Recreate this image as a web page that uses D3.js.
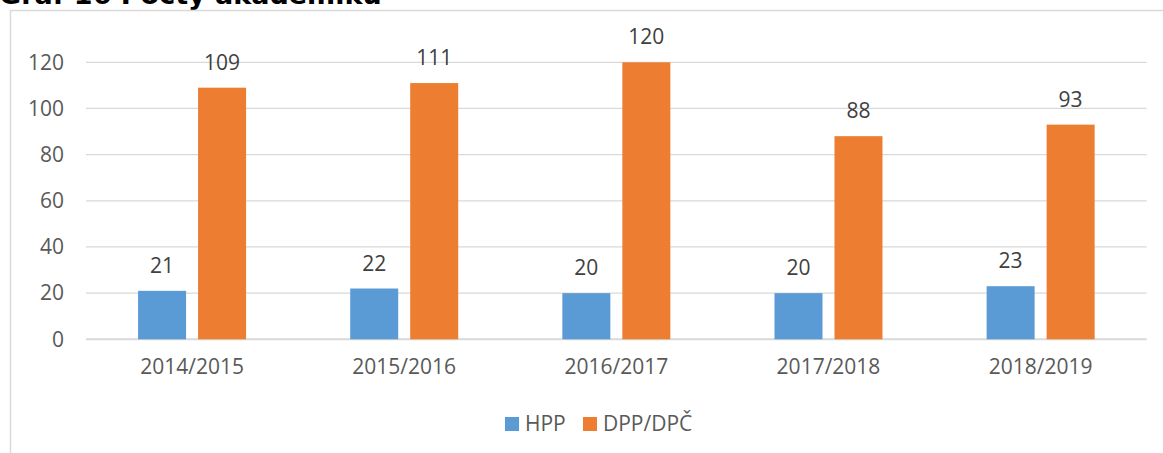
<!DOCTYPE html>
<html><head><meta charset="utf-8">
<script src="https://cdn.jsdelivr.net/npm/d3@7"></script>
<style>body{margin:0;background:#fff}svg{display:block}</style>
</head><body>
<script>
const categories = ["2014/2015","2015/2016","2016/2017","2017/2018","2018/2019"];
const seriesNames = ["HPP","DPP/DPČ"];
const hpp = [21,22,20,20,23];
const dpp = [109,111,120,88,93];
const yTicks = [0,20,40,60,80,100,120];
const colors = ["#5b9bd5","#ed7d31"];

const W=1163,H=453;
const svg=d3.select("body").append("svg").attr("width",W).attr("height",H);
const font="'Open Sans', sans-serif";
const fs=21;

// title (cut off at top, as in the reference)
svg.append("text").attr("x",-1).attr("y",4).text("Graf 16 Počty akademiků")
  .attr("font-family","'DejaVu Sans', Verdana, sans-serif").attr("font-weight","bold")
  .attr("font-size",27).attr("fill","#000");

// chart frame
svg.append("rect").attr("x",10.5).attr("y",10.5).attr("width",W+10).attr("height",H+10)
  .attr("fill","none").attr("stroke","#d9d9d9").attr("stroke-width",1.5);

const x0=d3.scaleBand().domain(categories).range([86,1146.7]).paddingInner(0).paddingOuter(0);
const y=d3.scaleLinear().domain([0,120]).range([339.3,62.3]);

// gridlines
svg.append("g").selectAll("line").data(yTicks).join("line")
  .attr("x1",86).attr("x2",1146.7).attr("y1",d=>y(d)).attr("y2",d=>y(d))
  .attr("stroke","#d9d9d9").attr("stroke-width",d=>d===0?2:1.3);

// y axis
const ya=svg.append("g").attr("transform","translate(64,0)")
  .call(d3.axisLeft(y).tickValues(yTicks).tickSize(0).tickPadding(0));
ya.select(".domain").remove();
ya.selectAll("text").attr("font-family",font).attr("font-size",fs).attr("fill","#595959");

// x axis labels
const xa=svg.append("g").attr("transform","translate(0,339)")
  .call(d3.axisBottom(x0).tickSize(0).tickPadding(20));
xa.select(".domain").remove();
xa.selectAll("text").attr("font-family",font).attr("font-size",fs).attr("fill","#595959");

const barW=48, gap=12;
const data=[hpp,dpp];
data.forEach((vals,si)=>{
  const g=svg.append("g");
  const off = si===0 ? -gap/2-barW : gap/2;
  g.selectAll("rect").data(vals).join("rect")
    .attr("x",(d,i)=>x0(categories[i])+x0.bandwidth()/2+off)
    .attr("width",barW)
    .attr("y",d=>y(d)).attr("height",d=>y(0)-y(d))
    .attr("fill",colors[si]);
  g.selectAll("text").data(vals).join("text")
    .attr("x",(d,i)=>x0(categories[i])+x0.bandwidth()/2+off+barW/2)
    .attr("y",d=>y(d)-18).attr("text-anchor","middle")
    .attr("font-family",font).attr("font-size",fs).attr("fill","#404040").text(d=>d);
});

// legend
const lg=svg.append("g");
const lx=[505,583];
seriesNames.forEach((n,i)=>{
  lg.append("rect").attr("x",lx[i]).attr("y",417).attr("width",14).attr("height",14).attr("fill",colors[i]);
  lg.append("text").attr("x",lx[i]+20).attr("y",431).text(n)
    .attr("font-family",font).attr("font-size",fs).attr("fill","#595959");
});
</script>
</body></html>
